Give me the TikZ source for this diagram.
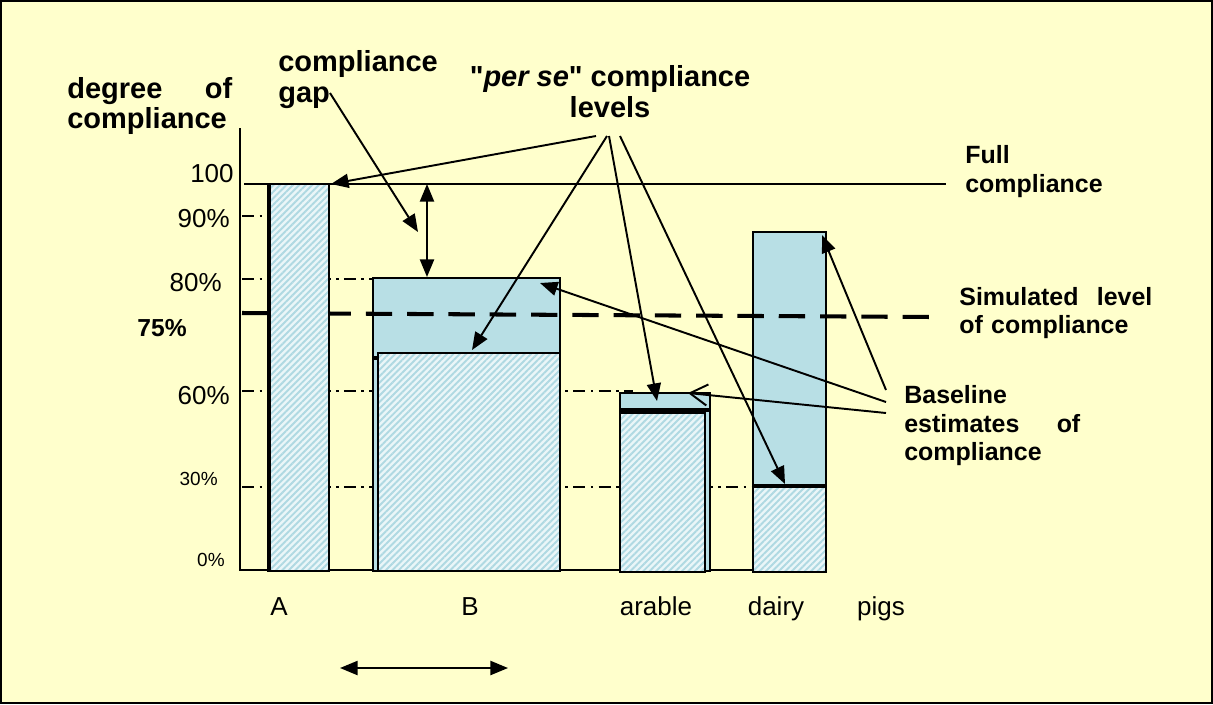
\documentclass[tikz,border=0pt]{standalone}
\usepackage{fontspec}
\setmainfont{Liberation Sans}
\usetikzlibrary{arrows.meta,patterns.meta}

\definecolor{paper}{HTML}{FFFFCC}
\definecolor{barblue}{HTML}{B8DFE5}
\definecolor{hatchbg}{HTML}{EAF6F8}
\definecolor{hatchline}{HTML}{AFD9E2}

\tikzset{
    bar/.style={draw=black, line width=1.1pt, fill=barblue},
    hatched/.style={draw=black, line width=1.1pt, preaction={fill=hatchbg},
        pattern={Lines[angle=45,distance=2.6pt,line width=1.1pt]}, pattern color=hatchline},
    guide/.style={line width=0.8pt, dash pattern=on 7pt off 3pt on 1.5pt off 3pt},
    arr/.style={-{Triangle[length=10pt,width=8pt]}, line width=1.1pt},
    darr/.style={{Triangle[length=10pt,width=8pt]}-{Triangle[length=10pt,width=8pt]}, line width=1.1pt},
    barb/.style={-{Straight Barb[length=10pt,width=12pt]}, line width=1.1pt},
    toplab/.style={inner sep=0pt, font=\fontsize{16.5}{17.6}\selectfont\bfseries},
    rlab/.style={inner sep=0pt, font=\fontsize{14.2}{16.5}\selectfont\bfseries},
    tick/.style={inner sep=0pt, font=\fontsize{14.8}{16}\selectfont},
    smalltick/.style={inner sep=0pt, font=\fontsize{10.8}{12}\selectfont}
}

\begin{document}
\begin{tikzpicture}[x=0.02cm, y=-0.02cm]
    \useasboundingbox (0,0) rectangle (1213,704);
    \fill[paper] (0,0) rectangle (1213,704);
    \draw[line width=1.3pt] (1,1) rectangle (1212,703);

    % guide lines of the levels
    \draw[guide] (242,216) -- (300,216);
    \draw[guide] (242,279) -- (380,279);
    \draw[guide] (242,391) -- (633,391);
    \draw[guide] (242,487) -- (760,487);

    % axes
    \draw[line width=0.9pt] (240,128) -- (240,570) -- (826,570);

    % bars
    \draw[bar] (373,278) rectangle (560,571);
    \draw[hatched] (378,353) rectangle (560,571);
    \draw[line width=2pt] (373,358) -- (378,358);
    \draw[bar] (620,393) rectangle (710,571);
    \draw[hatched] (620,413) rectangle (705,572);
    \draw[line width=2.2pt] (620,410) -- (710,410);
    \draw[bar] (753,232) rectangle (826,571);
    \draw[hatched] (753,487) rectangle (826,572);
    \draw[line width=2pt] (753,486) -- (826,486);

    % full and simulated level
    \draw[line width=0.9pt] (244,184) -- (946,184);
    \draw[line width=2.3pt, dash pattern=on 15pt off 8.5pt] (242,313) -- (933,317);

    \draw[hatched] (268,184) rectangle (329,571);
    \draw[line width=2.4pt] (269,184) -- (269,571);

    % labels
    \node[toplab, text width=3.3cm, align=left, anchor=base west] (degree) at (67,98) {degree\hfill of\\compliance};
    \node[toplab, align=left, anchor=base west] (gap) at (278,102) {compliance\\gap};
    \node[toplab, align=center, anchor=base] (perse) at (610,117) {\textquotedbl\textit{per se}\textquotedbl{} compliance\\levels};
    \node[rlab, align=left, anchor=base west] (full) at (965,192) {Full\\compliance};
    \node[rlab, text width=3.86cm, align=left, anchor=base west] (simulated) at (959,305) {Simulated\hfill level\\of compliance};
    \node[rlab, text width=3.52cm, align=left, anchor=base west] (baseline) at (904,403) {Baseline\\estimates\hfill of\\compliance};

    \node[tick, anchor=base east] (l100) at (234,182) {100};
    \node[tick, anchor=base east] (l90) at (230,227) {90\%};
    \node[tick, anchor=base east] (l80) at (222,291) {80\%};
    \node[inner sep=0pt, font=\fontsize{14}{16}\selectfont\bfseries, anchor=base east] (l75) at (187,336) {75\%};
    \node[tick, anchor=base east] (l60) at (230,404) {60\%};
    \node[smalltick, anchor=base east] (l30) at (218,485) {30\%};
    \node[smalltick, anchor=base east] (l0) at (225,566) {0\%};

    \node[tick, anchor=base] (catA) at (279,615) {A};
    \node[tick, anchor=base] (catB) at (470,615) {B};
    \node[tick, anchor=base] (arable) at (656,615) {arable};
    \node[tick, anchor=base] (dairy) at (776,615) {dairy};
    \node[tick, anchor=base] (pigs) at (881,615) {pigs};

    % arrow ends
    \coordinate (gapfrom) at (330,93);
    \coordinate (gapto) at (418,232);
    \coordinate (gaptop) at (427,184);
    \coordinate (gapbot) at (427,277);
    \coordinate (perseA) at (596,136);
    \coordinate (perseB) at (607,136);
    \coordinate (perseC) at (609,136);
    \coordinate (perseD) at (620,136);
    \coordinate (Atop) at (331,184);
    \coordinate (Bhatch) at (472,350);
    \coordinate (arahatch) at (657,401);
    \coordinate (dairyhatch) at (785,484);
    \coordinate (baseD) at (886,390);
    \coordinate (baseB) at (886,402);
    \coordinate (baseC) at (886,413);
    \coordinate (dairytop) at (822,235);
    \coordinate (Btop) at (540,283);
    \coordinate (aratop) at (688,393);
    \coordinate (spanL) at (340,668);
    \coordinate (spanR) at (508,668);

    \path [arr] (gapfrom) edge (gapto);
    \path [darr] (gaptop) edge (gapbot);
    \path [arr] (perseA) edge (Atop);
    \path [arr] (perseB) edge (Bhatch);
    \path [arr] (perseC) edge (arahatch);
    \path [arr] (perseD) edge (dairyhatch);
    \path [arr] (baseD) edge (dairytop);
    \path [arr] (baseB) edge (Btop);
    \path [barb] (baseC) edge (aratop);
    \path [darr] (spanL) edge (spanR);
\end{tikzpicture}
\end{document}
